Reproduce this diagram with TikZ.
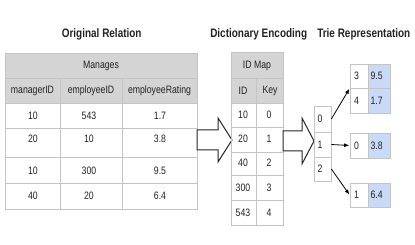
\documentclass[tikz,border=0pt]{standalone}
\usepackage{fontspec}
\setmainfont[FakeStretch=0.81]{Liberation Sans}
\usetikzlibrary{arrows.meta}
\definecolor{gridc}{HTML}{C4C4C4}
\definecolor{headc}{HTML}{D4D4D4}
\definecolor{valc}{HTML}{C9DAF8}
\definecolor{txtc}{HTML}{222222}
\begin{document}
\begin{tikzpicture}[x=1pt,y=-1pt,
  title/.style={font=\fontsize{12.3}{14}\selectfont\bfseries, inner sep=0, text=txtc},
  txt/.style={font=\fontsize{10.75}{12}\selectfont, inner sep=0, text=txtc},
  gridline/.style={draw=gridc, line width=0.7pt},
  bigarrow/.style={draw=black!85, fill=white, line width=1pt, line join=miter},
  cellbase/.style={draw=gridc, line width=0.7pt, inner ysep=0, font=\fontsize{10.75}{12}\selectfont, text=txtc, align=left},
  rootcell/.style={cellbase, minimum width=17pt, inner xsep=3.5pt, text width=10pt},
  keycell/.style={cellbase, minimum width=18pt, inner xsep=4pt, text width=10pt},
  valcell/.style={cellbase, fill=valc, minimum width=22pt, inner xsep=2.5pt, text width=17pt},
  link/.style={draw=black, line width=0.8pt, -{Latex[length=5pt,width=4pt]}, shorten >=0.5pt}
]
\useasboundingbox (0,0) rectangle (415,245);

% titles
\node[title] (t1) at (101.7,34) {Original Relation};
\node[title] (t2) at (258.7,34) {Dictionary Encoding};
\node[title] (t3) at (363.8,34) {Trie Representation};

% ---------- original relation table ----------
\fill[headc] (5,53) rectangle (197,103);
\draw[gridline] (5,53) rectangle (197,209);
\foreach \yy in {78,103,128,157,183} \draw[gridline] (5,\yy) -- (197,\yy);
\draw[gridline] (60,78) -- (60,209);
\draw[gridline] (122,78) -- (122,209);

\node[txt] (mg) at (101,65.7) {Manages};
\node[txt] (h1) at (32.5,91) {managerID};
\node[txt] (h2) at (91,91) {employeeID};
\node[txt] (h3) at (159.5,91) {employeeRating};

\node[txt] (a1) at (33,116) {10};  \node[txt] (b1) at (89,116) {543}; \node[txt] (c1) at (160,116) {1.7};
\node[txt] (a2) at (33,139) {20};  \node[txt] (b2) at (89,139) {10};  \node[txt] (c2) at (160,139) {3.8};
\node[txt] (a3) at (33,171) {10};  \node[txt] (b3) at (89,171) {300}; \node[txt] (c3) at (160,171) {9.5};
\node[txt] (a4) at (33,196) {40};  \node[txt] (b4) at (89,196) {20};  \node[txt] (c4) at (160,196) {6.4};

% ---------- big arrow 1 ----------
\draw[bigarrow] (197,130) -- (218,130) -- (218,118) -- (232,140) -- (218,162) -- (218,150) -- (197,150) -- cycle;

% ---------- ID map ----------
\fill[headc] (231,52) rectangle (283,103);
\draw[gridline] (231,52) rectangle (283,225);
\foreach \yy in {78,103,127,152,175,200} \draw[gridline] (231,\yy) -- (283,\yy);
\draw[gridline] (256,78) -- (256,225);

\node[txt] (idm) at (257,66) {ID Map};
\node[txt] (idh) at (243,91) {ID};
\node[txt] (keyh) at (270,91) {Key};
\node[txt] (i1) at (243,115) {10};  \node[txt] (k1) at (269,115) {0};
\node[txt] (i2) at (243,139) {20};  \node[txt] (k2) at (269,139) {1};
\node[txt] (i3) at (243,163) {40};  \node[txt] (k3) at (269,163) {2};
\node[txt] (i4) at (243,188) {300}; \node[txt] (k4) at (269,188) {3};
\node[txt] (i5) at (243,213) {543}; \node[txt] (k5) at (269,213) {4};

% ---------- big arrow 2 ----------
\draw[bigarrow] (283,131) -- (302,131) -- (302,118) -- (314,141) -- (302,164) -- (302,151) -- (283,151) -- cycle;

% ---------- trie ----------
\node[rootcell, minimum height=26pt] (r0) at (322.5,119) {0};
\node[rootcell, minimum height=25pt] (r1) at (322.5,144.5) {1};
\node[rootcell, minimum height=24pt] (r2) at (322.5,169) {2};

\node[keycell, minimum height=24pt] (tk0) at (359,76) {3};
\node[valcell, minimum height=24pt] (tv0) at (379,76) {9.5};
\node[keycell, minimum height=25pt] (tk1) at (359,100.5) {4};
\node[valcell, minimum height=25pt] (tv1) at (379,100.5) {1.7};

\node[keycell, minimum height=25pt] (mk) at (359,145.5) {0};
\node[valcell, minimum height=25pt] (mv) at (379,145.5) {3.8};

\node[keycell, minimum height=24pt] (bk) at (359,195) {1};
\node[valcell, minimum height=24pt] (bv) at (379,195) {6.4};

\draw[link] (r0.east) -- (tk0.south west);
\draw[link] (r1.east) -- (mk.west);
\draw[link] (r2.east) -- (bk.west);
\end{tikzpicture}
\end{document}
